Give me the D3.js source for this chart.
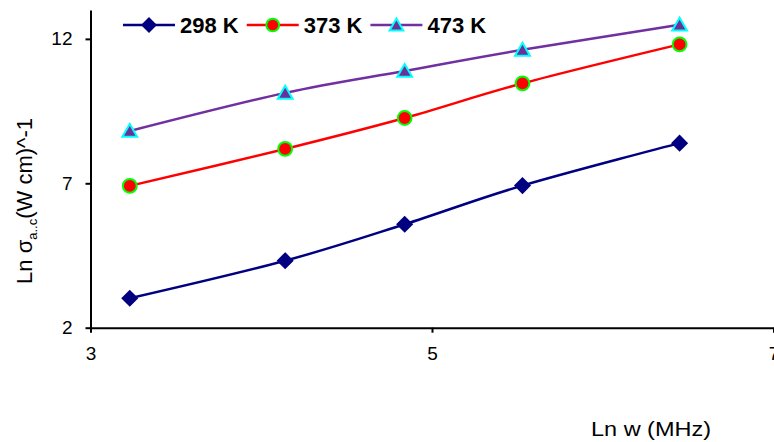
<!DOCTYPE html>
<html>
<head>
<meta charset="utf-8">
<script src="https://cdn.jsdelivr.net/npm/d3@7"></script>
<style>
  body { margin: 0; background: #fff; }
  svg { display: block; font-family: "Liberation Sans", Arial, sans-serif; }
</style>
</head>
<body>
<svg id="chart" width="774" height="442"></svg>
<script>
// data
const lnW = [3.23, 4.14, 4.84, 5.53, 6.45];
const k298 = [3.02, 4.32, 5.58, 6.92, 8.39];
const k373 = [6.91, 8.19, 9.26, 10.46, 11.81];
const k473 = [8.81, 10.13, 10.89, 11.62, 12.49];
const seriesNames = ['298 K', '373 K', '473 K'];
const xTicks = [3, 5, 7];
const yTicks = [2, 7, 12];

const series = [
  { name: seriesNames[0], values: k298, line: '#000080', fill: '#000080', stroke: '#000080', symbol: d3.symbolDiamond2, size: 130 },
  { name: seriesNames[1], values: k373, line: '#ff0000', fill: '#ff0000', stroke: '#00ff00', symbol: d3.symbolCircle, size: 150 },
  { name: seriesNames[2], values: k473, line: '#7030a0', fill: '#6a3298', stroke: '#00ffff', symbol: d3.symbolTriangle, size: 95 }
];

const svg = d3.select('#chart');

const x = d3.scaleLinear().domain([3, 7]).range([90.5, 773.5]);
const y = d3.scaleLinear().domain([2, 13]).range([327.7, 10]);

// axes
const xAxis = svg.append('g')
    .attr('transform', `translate(0,${y(2)})`)
    .call(d3.axisBottom(x).tickValues(xTicks).tickFormat(d3.format('d'))
      .tickSize(5).tickPadding(14).tickSizeOuter(0));

const yAxis = svg.append('g')
    .attr('transform', `translate(${x(3)},0)`)
    .call(d3.axisLeft(y).tickValues(yTicks).tickFormat(d3.format('d'))
      .tickSize(5).tickPadding(13).tickSizeOuter(0));

[xAxis, yAxis].forEach((g) => {
  g.select('.domain').attr('stroke', '#000').attr('stroke-width', 2);
  g.selectAll('.tick line').attr('stroke', '#000').attr('stroke-width', 2);
  g.selectAll('.tick text')
      .attr('fill', '#000')
      .style('font-size', '19px')
      .style('font-family', '"Liberation Sans", Arial, sans-serif');
});

// lines
const line = d3.line()
    .x((d, i) => x(lnW[i]))
    .y((d) => y(d))
    .curve(d3.curveCatmullRom.alpha(0));

const plot = svg.append('g');

series.forEach((s) => {
  plot.append('path')
      .attr('d', line(s.values))
      .attr('fill', 'none')
      .attr('stroke', s.line)
      .attr('stroke-width', 2.5);
});

// markers
series.forEach((s) => {
  plot.append('g')
    .selectAll('path')
    .data(s.values)
    .enter()
    .append('path')
      .attr('d', d3.symbol(s.symbol, s.size))
      .attr('transform', (d, i) => `translate(${x(lnW[i])},${y(d) + (s.symbol === d3.symbolTriangle ? 1.5 : 0)})`)
      .attr('fill', s.fill)
      .attr('stroke', s.stroke)
      .attr('stroke-width', 2);
});

// legend
const legend = svg.append('g').attr('transform', 'translate(123,25)');
let lx = 0;
series.forEach((s) => {
  const item = legend.append('g').attr('transform', `translate(${lx},0)`);
  item.append('line')
      .attr('x1', 0).attr('x2', 52)
      .attr('stroke', s.line)
      .attr('stroke-width', 2.5);
  item.append('path')
      .attr('d', d3.symbol(s.symbol, s.size * 0.85))
      .attr('transform', `translate(26,${s.symbol === d3.symbolTriangle ? 1.5 : 0})`)
      .attr('fill', s.fill)
      .attr('stroke', s.stroke)
      .attr('stroke-width', 2);
  const t = item.append('text')
      .attr('x', 57)
      .attr('dy', '0.36em')
      .style('font-size', '22px')
      .style('font-weight', 'bold')
      .text(s.name);
  lx += 57 + t.node().getComputedTextLength() + 8;
});

// axis titles
svg.append('text')
    .attr('x', 591)
    .attr('y', 436)
    .attr('textLength', 120)
    .attr('lengthAdjust', 'spacingAndGlyphs')
    .style('font-size', '21px')
    .text('Ln w (MHz)');

const yTitle = svg.append('text')
    .attr('transform', 'translate(32,201) rotate(-90)')
    .attr('text-anchor', 'middle')
    .style('font-size', '22px');
yTitle.append('tspan').text('Ln σ');
yTitle.append('tspan').attr('dy', 5).style('font-size', '13px').text('a..c');
yTitle.append('tspan').attr('dy', -5).text('(W cm)^-1');
</script>
</body>
</html>
